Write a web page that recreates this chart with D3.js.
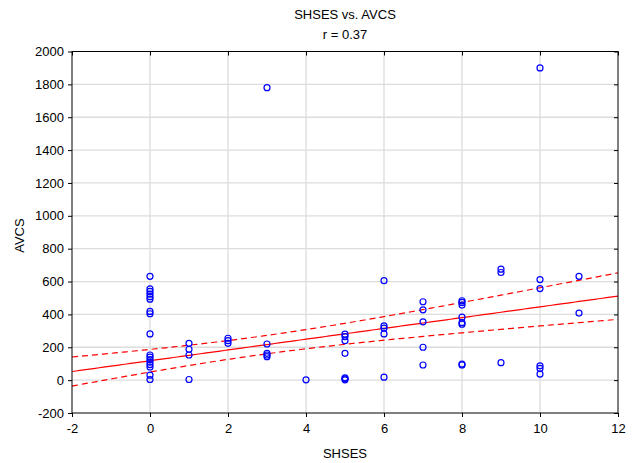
<!DOCTYPE html>
<html>
<head>
<meta charset="utf-8">
<script src="https://cdn.jsdelivr.net/npm/d3@7"></script>
<style>
  body { margin: 0; background: #fff; }
  text { font-family: 'Liberation Sans', Arial, sans-serif; fill: #000; }
</style>
</head>
<body>
<svg id="chart"></svg>
<script>
// data
const shses = [
  0, 0, 0, 0, 0, 0, 0, 0, 0, 0, 0, 0, 0, 0, 0, 0, 0,
  1, 1, 1, 1,
  2, 2, 2,
  3, 3, 3, 3, 3,
  4,
  5, 5, 5, 5, 5, 5, 5,
  6, 6, 6, 6, 6,
  7, 7, 7, 7, 7,
  8, 8, 8, 8, 8, 8, 8, 8,
  9, 9, 9,
  10, 10, 10, 10, 10, 10,
  11, 11
]
const avcs = [
  632, 555, 540, 524, 508, 493, 418, 404, 281, 153, 140, 125, 110, 95, 80, 30, 4,
  224, 188, 153, 4,
  255, 240, 224,
  1780, 220, 163, 153, 143,
  2,
  280, 265, 240, 163, 14, 8, 2,
  605, 330, 316, 281, 18,
  477, 428, 355, 200, 92,
  483, 473, 457, 383, 350, 340, 98, 92,
  675, 655, 106,
  1900, 612, 557, 87, 71, 37,
  632, 408
]
const xTicks = [-2, 0, 2, 4, 6, 8, 10, 12]
const yTicks = [-200, 0, 200, 400, 600, 800, 1000, 1200, 1400, 1600, 1800, 2000]
const titleLines = ['SHSES vs. AVCS', 'r = 0.37']
// fitted line and 95% band as drawn in the original
const fitIntercept = 118
const fitSlope = 32.8
const bandCenter = 2.83
const bandMin = 56
const bandGrowth = 14.2

const width = 635
const height = 463
const margin = { top: 51.5, right: 17, bottom: 50, left: 72 }

const svg = d3.select('#chart').attr('width', width).attr('height', height)

const x = d3.scaleLinear().domain([-2, 12]).range([margin.left, width - margin.right])
const y = d3.scaleLinear().domain([-200, 2000]).range([height - margin.bottom, margin.top])

// grid
svg.append('g').selectAll('line').data(xTicks.slice(1, -1)).join('line')
  .attr('x1', d => x(d)).attr('x2', d => x(d))
  .attr('y1', margin.top).attr('y2', height - margin.bottom)
  .attr('stroke', '#dcdcdc').attr('stroke-width', 1.3)
svg.append('g').selectAll('line').data(yTicks.slice(1, -1)).join('line')
  .attr('y1', d => y(d)).attr('y2', d => y(d))
  .attr('x1', margin.left).attr('x2', width - margin.right)
  .attr('stroke', '#dcdcdc').attr('stroke-width', 1.3)

// regression + confidence band
const pts = shses.map((s, i) => ({ x: s, y: avcs[i] }))
const fit = v => fitIntercept + fitSlope * v
const half = v => Math.sqrt(bandMin ** 2 + (bandGrowth * (v - bandCenter)) ** 2)
const xs = d3.range(-2, 12.01, 0.1)

const plot = svg.append('g')
const line = d3.line().x(d => x(d[0])).y(d => y(d[1]))
plot.append('path')
  .attr('d', line(xs.map(v => [v, fit(v)])))
  .attr('fill', 'none').attr('stroke', '#ff0000').attr('stroke-width', 1.2)
;[1, -1].forEach(sg => {
  plot.append('path')
    .attr('d', line(xs.map(v => [v, fit(v) + sg * half(v)])))
    .attr('fill', 'none').attr('stroke', '#ff0000').attr('stroke-width', 1.2)
    .attr('stroke-dasharray', '6,4')
})

// points
plot.selectAll('circle').data(pts).join('circle')
  .attr('cx', d => x(d.x)).attr('cy', d => y(d.y)).attr('r', 3)
  .attr('fill', 'none').attr('stroke', '#0000ff').attr('stroke-width', 1.2)

// frame
svg.append('rect')
  .attr('x', margin.left).attr('y', margin.top)
  .attr('width', width - margin.left - margin.right)
  .attr('height', height - margin.top - margin.bottom)
  .attr('fill', 'none').attr('stroke', '#000').attr('stroke-width', 1)

// axes
const fmt = d => String(d).replace('\u2212', '-')
svg.append('g').attr('transform', `translate(0,${height - margin.bottom})`)
  .call(d3.axisBottom(x).tickValues(xTicks).tickSize(4).tickPadding(7).tickFormat(fmt))
  .call(g => g.select('.domain').remove())
  .call(g => g.selectAll('text').attr('font-size', 13))
svg.append('g').attr('transform', `translate(${margin.left},0)`)
  .call(d3.axisLeft(y).tickValues(yTicks).tickSize(4).tickPadding(4).tickFormat(fmt))
  .call(g => g.select('.domain').remove())
  .call(g => g.selectAll('text').attr('font-size', 13))
svg.append('g').attr('transform', `translate(0,${margin.top})`)
  .call(d3.axisBottom(x).tickValues(xTicks).tickSize(4).tickFormat(''))
  .call(g => g.select('.domain').remove())
svg.append('g').attr('transform', `translate(${width - margin.right},0)`)
  .call(d3.axisLeft(y).tickValues(yTicks).tickSize(4).tickFormat(''))
  .call(g => g.select('.domain').remove())

// titles
svg.selectAll('.title').data(titleLines).join('text')
  .attr('class', 'title')
  .attr('x', x(5)).attr('y', (d, i) => 19 + i * 20)
  .attr('text-anchor', 'middle').attr('font-size', 13)
  .text(d => d)
svg.append('text')
  .attr('x', x(5)).attr('y', height - 5)
  .attr('text-anchor', 'middle').attr('font-size', 13)
  .text('SHSES')
svg.append('text')
  .attr('transform', `translate(24,${y(880)}) rotate(-90)`)
  .attr('text-anchor', 'middle').attr('font-size', 13)
  .text('AVCS')
</script>
</body>
</html>
